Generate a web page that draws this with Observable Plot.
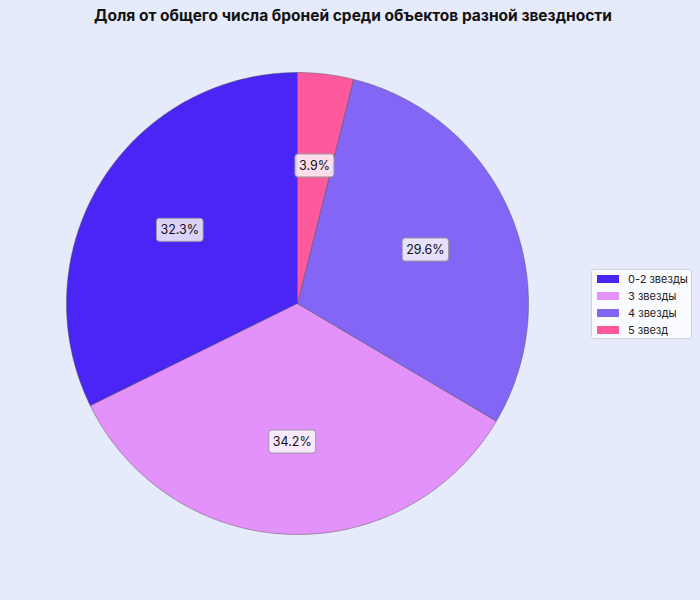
<!DOCTYPE html>
<html><head><meta charset="utf-8">
<script src="https://cdn.jsdelivr.net/npm/d3@7"></script>
<script src="https://cdn.jsdelivr.net/npm/@observablehq/plot@0.6"></script>
<style>
body{margin:0;background:#e6ebfb;font-family:Inter,"Noto Sans",sans-serif;}
#wrap{position:relative;width:700px;height:600px;background:#e6ebfb;}
#title{height:30px;text-align:center;font-weight:700;font-size:15.5px;line-height:32px;color:#111;padding-left:6px;}
#legend{position:absolute;left:591px;top:269px;width:101px;padding:0;background:rgba(255,255,255,0.8);border:1px solid #d0d3dc;border-radius:3px;box-sizing:border-box;}
.row{display:flex;align-items:center;height:17px;font-size:11px;color:#222;}
.sw{width:22px;height:8px;margin-left:5px;margin-right:9px;}
</style></head><body>
<div id="wrap">
<div id="title">Доля от общего числа броней среди объектов разной звездности</div>
<div id="chart"></div>
<div id="legend"></div>
</div>
<script>
const categories = ["0-2 звезды", "3 звезды", "4 звезды", "5 звезд"];
const shares = [32.3, 34.2, 29.6, 3.9];
const colors = ["#4a25f5", "#e492fb", "#8466f6", "#fd5a9d"];

const total = d3.sum(shares);
const slices = [];
const labels = [];
let start = 90;
categories.forEach((c, i) => {
  const span = shares[i] / total * 360;
  const a0 = start, a1 = start + span;
  const n = Math.max(2, Math.ceil(span * 2));
  slices.push({cat: c, x: 0, y: 0});
  for (let k = 0; k <= n; k++) {
    const a = (a0 + (a1 - a0) * k / n) * Math.PI / 180;
    slices.push({cat: c, x: Math.cos(a), y: Math.sin(a)});
  }
  slices.push({cat: c, x: 0, y: 0});
  const m = (a0 + a1) / 2 * Math.PI / 180;
  labels.push({cat: c, x: 0.6 * Math.cos(m), y: 0.6 * Math.sin(m), text: (shares[i] / total * 100).toFixed(1) + "%"});
  start = a1;
});

const chart = Plot.plot({
  width: 700,
  height: 570,
  marginLeft: 66,
  marginRight: 172,
  marginTop: 42,
  marginBottom: 66,
  style: {background: "transparent", fontFamily: "Inter, sans-serif"},
  x: {domain: [-1, 1], axis: null},
  y: {domain: [-1, 1], axis: null},
  color: {domain: categories, range: colors},
  marks: [
    Plot.line(slices, {x: "x", y: "y", z: "cat", fill: "cat", stroke: "#555", strokeWidth: 0.5, curve: "linear"}),
    Plot.text(labels, {x: "x", y: "y", text: "text", fontSize: 12.5, fill: "#111"})
  ]
});
document.getElementById("chart").appendChild(chart);

// label boxes
chart.querySelectorAll('g[aria-label="text"] text').forEach(t => {
  const b = t.getBBox();
  const r = document.createElementNS("http://www.w3.org/2000/svg", "rect");
  r.setAttribute("x", b.x - 4);
  r.setAttribute("y", b.y - 4);
  r.setAttribute("width", b.width + 8);
  r.setAttribute("height", b.height + 8);
  r.setAttribute("rx", 3);
  const tr = t.getAttribute("transform");
  if (tr) r.setAttribute("transform", tr);
  r.setAttribute("fill", "rgba(255,255,255,0.8)");
  r.setAttribute("stroke", "#9a9a9a");
  r.setAttribute("stroke-width", 1);
  t.parentNode.insertBefore(r, t);
});

const lg = document.getElementById("legend");
categories.forEach((c, i) => {
  const row = document.createElement("div");
  row.className = "row";
  const sw = document.createElement("div");
  sw.className = "sw";
  sw.style.background = colors[i];
  const s = document.createElement("span");
  s.textContent = c;
  row.appendChild(sw); row.appendChild(s);
  lg.appendChild(row);
});
</script>
</body></html>
